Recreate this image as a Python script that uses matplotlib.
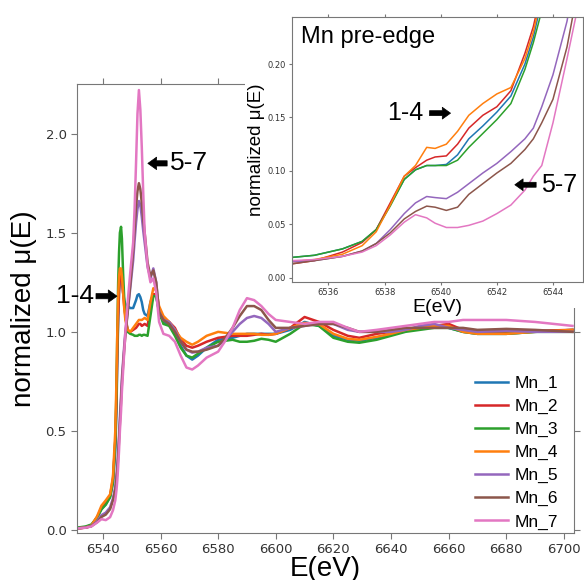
import matplotlib
matplotlib.use('Agg')
import matplotlib.pyplot as plt
from matplotlib.patches import Rectangle
from matplotlib.ticker import MultipleLocator

# --- Data ---

SAMPLES = ['Mn_1', 'Mn_2', 'Mn_3', 'Mn_4', 'Mn_5', 'Mn_6', 'Mn_7']
COLORS = ['tab:blue', 'tab:red', 'tab:green', 'tab:orange', 'tab:purple', 'tab:brown', 'tab:pink']

# full XANES range
energy = [6531, 6534, 6536, 6538, 6539.5, 6541, 6542.5, 6543.5,
          6544.3, 6544.7, 6545.0, 6545.3, 6545.6, 6545.9, 6546.3, 6546.6, 6547.0, 6547.4,
          6547.8, 6548.6, 6549.5, 6550.5, 6551.0, 6551.5, 6552.0, 6552.5, 6553.0, 6553.5,
          6554.0, 6554.5, 6555.5, 6556.5, 6557.5, 6558.5, 6559.5, 6561, 6563, 6565,
          6567, 6569, 6571, 6573, 6576, 6580, 6582.5, 6585, 6587.5, 6590,
          6592.5, 6595, 6597.5, 6600,
          6605, 6610, 6615, 6620, 6625, 6629, 6635, 6640, 6645, 6650,
          6655, 6660, 6665, 6670, 6680, 6690, 6703]

mn_1 = [0.010, 0.015, 0.025, 0.065, 0.105, 0.130, 0.170, 0.240,
        0.40, 0.60, 0.85, 1.05, 1.20, 1.28, 1.30, 1.27, 1.20, 1.16,
        1.14, 1.13, 1.12, 1.12, 1.14, 1.16, 1.185, 1.19, 1.175, 1.15,
        1.11, 1.09, 1.08, 1.15, 1.19, 1.18, 1.10, 1.05, 1.04, 1.00,
        0.93, 0.88, 0.86, 0.88, 0.92, 0.96, 0.965, 0.97, 0.98, 0.99,
        0.99, 0.99, 0.99, 0.99,
        1.01, 1.05, 1.03, 0.98, 0.96, 0.955, 0.97, 0.99, 1.01, 1.02,
        1.03, 1.02, 1.00, 0.99, 0.99, 1.00, 1.01]
mn_2 = [0.008, 0.012, 0.020, 0.065, 0.112, 0.140, 0.175, 0.260,
        0.45, 0.65, 0.90, 1.08, 1.20, 1.28, 1.30, 1.27, 1.20, 1.13,
        1.08, 1.01, 1.00, 1.01, 1.015, 1.02, 1.03, 1.04, 1.04, 1.03,
        1.035, 1.04, 1.03, 1.12, 1.19, 1.19, 1.12, 1.07, 1.05, 1.02,
        0.96, 0.93, 0.92, 0.93, 0.95, 0.97, 0.975, 0.98, 0.98, 0.98,
        0.985, 0.99, 0.985, 0.99,
        1.02, 1.075, 1.05, 1.01, 0.98, 0.97, 0.99, 1.00, 1.01, 1.02,
        1.03, 1.04, 1.01, 1.00, 1.00, 1.005, 1.01]
mn_3 = [0.012, 0.018, 0.028, 0.063, 0.105, 0.128, 0.165, 0.240,
        0.45, 0.70, 1.00, 1.25, 1.40, 1.50, 1.53, 1.47, 1.30, 1.17,
        1.08, 1.00, 0.99, 0.985, 0.98, 0.98, 0.98, 0.985, 0.985, 0.98,
        0.985, 0.985, 0.98, 1.08, 1.18, 1.18, 1.10, 1.04, 1.03, 0.98,
        0.92, 0.88, 0.87, 0.89, 0.92, 0.95, 0.955, 0.96, 0.95, 0.95,
        0.955, 0.965, 0.96, 0.95,
        0.99, 1.04, 1.03, 0.97, 0.95, 0.945, 0.96, 0.98, 1.00, 1.01,
        1.02, 1.02, 1.00, 0.99, 0.99, 1.00, 1.00]
mn_4 = [0.008, 0.013, 0.022, 0.070, 0.123, 0.150, 0.180, 0.270,
        0.50, 0.75, 1.00, 1.18, 1.28, 1.32, 1.32, 1.28, 1.20, 1.12,
        1.06, 1.01, 1.00, 1.02, 1.03, 1.04, 1.05, 1.06, 1.06, 1.06,
        1.065, 1.07, 1.06, 1.15, 1.22, 1.21, 1.13, 1.08, 1.05, 1.01,
        0.97, 0.95, 0.935, 0.95, 0.98, 1.00, 0.995, 0.99, 0.99, 0.99,
        0.99, 0.985, 0.985, 0.99,
        1.02, 1.045, 1.04, 0.99, 0.965, 0.96, 0.975, 0.99, 1.01, 1.02,
        1.03, 1.03, 1.00, 0.99, 0.99, 1.00, 1.01]
mn_5 = [0.008, 0.013, 0.020, 0.045, 0.075, 0.088, 0.115, 0.160,
        0.22, 0.28, 0.33, 0.40, 0.48, 0.57, 0.68, 0.77, 0.85, 0.93,
        1.00, 1.10, 1.22, 1.36, 1.46, 1.55, 1.62, 1.66, 1.64, 1.58,
        1.51, 1.45, 1.33, 1.27, 1.32, 1.25, 1.10, 1.06, 1.05, 1.01,
        0.95, 0.91, 0.895, 0.90, 0.92, 0.93, 0.96, 1.00, 1.04, 1.07,
        1.08, 1.07, 1.04, 1.00,
        1.02, 1.03, 1.04, 1.04, 1.01, 1.00, 1.00, 1.00, 1.01, 1.03,
        1.04, 1.02, 1.01, 1.00, 1.005, 1.00, 1.00]
mn_6 = [0.008, 0.013, 0.020, 0.040, 0.066, 0.078, 0.105, 0.150,
        0.20, 0.25, 0.30, 0.37, 0.45, 0.54, 0.65, 0.74, 0.83, 0.91,
        0.98, 1.10, 1.24, 1.41, 1.52, 1.63, 1.71, 1.75, 1.72, 1.65,
        1.57, 1.50, 1.35, 1.28, 1.31, 1.25, 1.10, 1.06, 1.04, 1.00,
        0.95, 0.91, 0.90, 0.90, 0.91, 0.93, 0.97, 1.02, 1.08, 1.13,
        1.13, 1.11, 1.06, 1.02,
        1.02, 1.03, 1.04, 1.04, 1.02, 1.00, 1.00, 1.01, 1.02, 1.02,
        1.02, 1.02, 1.02, 1.01, 1.015, 1.01, 1.00]
mn_7 = [0.008, 0.012, 0.018, 0.038, 0.055, 0.050, 0.065, 0.100,
        0.15, 0.20, 0.25, 0.32, 0.40, 0.50, 0.60, 0.70, 0.80, 0.90,
        1.00, 1.15, 1.30, 1.45, 1.62, 1.85, 2.10, 2.22, 2.12, 1.93,
        1.70, 1.50, 1.33, 1.25, 1.27, 1.20, 1.05, 0.99, 0.98, 0.95,
        0.88, 0.82, 0.81, 0.83, 0.87, 0.90, 0.955, 1.02, 1.11, 1.17,
        1.16, 1.13, 1.09, 1.06,
        1.05, 1.04, 1.05, 1.05, 1.02, 1.00, 1.01, 1.02, 1.03, 1.04,
        1.05, 1.05, 1.06, 1.06, 1.06, 1.05, 1.03]

# pre-edge zoom
energy_pre = [6534.7, 6535.5, 6536.5, 6537.2, 6537.7, 6538.2, 6538.7, 6539.1, 6539.5, 6539.8,
              6540.2, 6540.6, 6541.0, 6541.5, 6542.0, 6542.5, 6543.0, 6543.3, 6543.6, 6544.0,
              6544.5, 6545.1]

pre_1 = [0.019, 0.021, 0.027, 0.034, 0.045, 0.068, 0.092, 0.101, 0.105, 0.105,
         0.106, 0.115, 0.130, 0.142, 0.155, 0.170, 0.200, 0.225, 0.260, 0.350,
         0.500, 0.800]
pre_2 = [0.013, 0.016, 0.024, 0.033, 0.045, 0.070, 0.095, 0.103, 0.110, 0.113,
         0.114, 0.125, 0.140, 0.152, 0.160, 0.175, 0.210, 0.235, 0.270, 0.370,
         0.520, 0.850]
pre_3 = [0.019, 0.021, 0.027, 0.034, 0.045, 0.067, 0.092, 0.101, 0.105, 0.105,
         0.105, 0.110, 0.122, 0.135, 0.148, 0.163, 0.195, 0.220, 0.250, 0.330,
         0.480, 0.800]
pre_4 = [0.015, 0.017, 0.022, 0.030, 0.043, 0.068, 0.095, 0.105, 0.122, 0.121,
         0.125, 0.137, 0.152, 0.163, 0.172, 0.178, 0.205, 0.230, 0.265, 0.360,
         0.520, 0.850]
pre_5 = [0.015, 0.016, 0.020, 0.025, 0.032, 0.045, 0.060, 0.070, 0.076, 0.075,
         0.074, 0.080, 0.088, 0.098, 0.107, 0.118, 0.130, 0.140, 0.160, 0.190,
         0.240, 0.330]
pre_6 = [0.013, 0.016, 0.020, 0.025, 0.032, 0.042, 0.055, 0.062, 0.067, 0.066,
         0.063, 0.066, 0.078, 0.088, 0.098, 0.107, 0.120, 0.130, 0.145, 0.167,
         0.216, 0.300]
pre_7 = [0.016, 0.017, 0.020, 0.024, 0.030, 0.040, 0.052, 0.059, 0.056, 0.051,
         0.047, 0.047, 0.049, 0.053, 0.060, 0.068, 0.082, 0.095, 0.105, 0.145,
         0.205, 0.280]

MAIN_SERIES = [mn_1, mn_2, mn_3, mn_4, mn_5, mn_6, mn_7]
PRE_SERIES = [pre_1, pre_2, pre_3, pre_4, pre_5, pre_6, pre_7]

# --- Styling ---
LABEL_FONT = 'Liberation Sans'
SPINE_COLOR = '#777777'
TICK_LABEL_COLOR = '#333333'


def style_axes(ax, labelsize, ticklen):
    for spine in ax.spines.values():
        spine.set_color(SPINE_COLOR)
    ax.tick_params(direction='out', colors=SPINE_COLOR, labelcolor=TICK_LABEL_COLOR,
                   labelsize=labelsize, length=ticklen, top=True, right=True,
                   labeltop=False, labelright=False)


def fat_arrow(ax, tail, head, scale):
    ax.annotate('', xy=head, xytext=tail, annotation_clip=False,
                arrowprops=dict(arrowstyle='simple,head_width=1.0,head_length=0.7,tail_width=0.42',
                                fc='black', ec='black', lw=0.5, shrinkA=0, shrinkB=0,
                                mutation_scale=scale))


fig = plt.figure(figsize=(5.84, 5.80), dpi=100)

# --- Main panel ---
ax = fig.add_axes([0.1318, 0.081, 0.851, 0.774])
ax.set_zorder(0)
for vals, name, color in zip(MAIN_SERIES, SAMPLES, COLORS):
    ax.plot(energy, vals, color=color, lw=1.8, label=name)

ax.set_xlim(6531, 6703.5)
ax.set_ylim(-0.015, 2.25)
ax.xaxis.set_major_locator(MultipleLocator(20))
ax.yaxis.set_major_locator(MultipleLocator(0.5))
style_axes(ax, 9.5, 4)
ax.set_xlabel('E(eV)', fontsize=20, family=LABEL_FONT, labelpad=0)
ax.set_ylabel('normalized μ(E)', fontsize=20, family=LABEL_FONT, labelpad=6)

ax.legend(loc='lower right', bbox_to_anchor=(1.0, -0.027), frameon=False,
          prop={'family': LABEL_FONT, 'size': 12.5},
          handlelength=1.9, labelspacing=0.45, handletextpad=0.4)

ax.text(6563.2, 1.85, '5-7', fontsize=19, family=LABEL_FONT, va='center', ha='left')
fat_arrow(ax, (6562.3, 1.85), (6555.6, 1.85), 9)
ax.text(6537.0, 1.18, '1-4', fontsize=19, family=LABEL_FONT, va='center', ha='right',
        clip_on=False)
fat_arrow(ax, (6537.6, 1.18), (6544.9, 1.18), 9)

# white backing of the pasted inset (main panel, inset labels strip)
fig.add_artist(Rectangle((0.4195, 1 - 292 / 580), 0.5805, 292 / 580, transform=fig.transFigure,
                         facecolor='white', edgecolor='none', zorder=1))
fig.add_artist(Rectangle((400 / 584, 1 - 308 / 580), 184 / 584, 20 / 580, transform=fig.transFigure,
                         facecolor='white', edgecolor='none', zorder=1))

# --- Inset: pre-edge ---
axin = fig.add_axes([0.5, 0.5138, 0.4983, 0.4569])
axin.set_zorder(2)
for vals, color in zip(PRE_SERIES, COLORS):
    axin.plot(energy_pre, vals, color=color, lw=1.1)

axin.set_xlim(6534.7, 6545.07)
axin.set_ylim(-0.004, 0.244)
axin.xaxis.set_major_locator(MultipleLocator(2))
axin.yaxis.set_major_locator(MultipleLocator(0.05))
axin.yaxis.set_major_formatter(plt.FormatStrFormatter('%.2f'))
style_axes(axin, 6, 2.5)
axin.tick_params(pad=2)
axin.set_xlabel('E(eV)', fontsize=14, family=LABEL_FONT, labelpad=1)
axin.set_ylabel('normalized μ(E)', fontsize=13.5, family=LABEL_FONT, labelpad=2)

axin.text(0.03, 0.965, 'Mn pre-edge', transform=axin.transAxes, fontsize=17,
          family=LABEL_FONT, va='top', ha='left')
axin.text(6539.38, 0.154, '1-4', fontsize=18, family=LABEL_FONT, va='center', ha='right')
fat_arrow(axin, (6539.6, 0.154), (6540.35, 0.154), 8.5)
axin.text(6543.57, 0.087, '5-7', fontsize=18, family=LABEL_FONT, va='center', ha='left',
          clip_on=False)
fat_arrow(axin, (6543.4, 0.087), (6542.64, 0.087), 8.5)

fig.savefig('out.png', dpi=100)
